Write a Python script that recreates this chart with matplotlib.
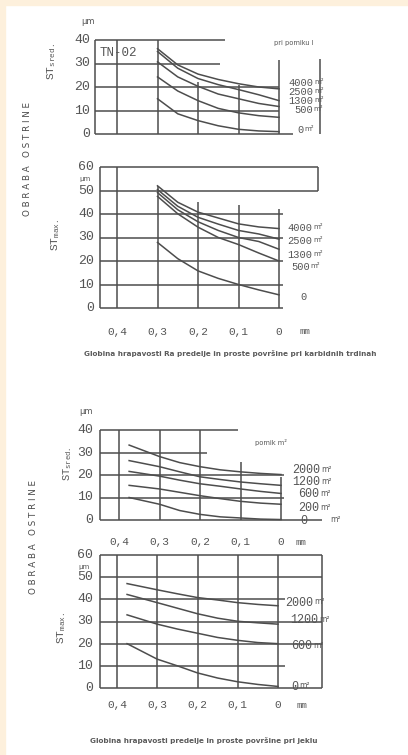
import matplotlib
matplotlib.use('Agg')
import matplotlib.pyplot as plt
from matplotlib.patches import Rectangle
from matplotlib.transforms import blended_transform_factory as blend

# ---------------- data ----------------
ticks_x = [0.4, 0.3, 0.2, 0.1, 0.0]
ticks_x_labels = ['0,4', '0,3', '0,2', '0,1', '0']

# Panel 1: carbide, ST sred. (um) vs depth (mm), per feed length
p1_x = [0.3, 0.25, 0.2, 0.15, 0.1, 0.05, 0.0]
p1_names = ['4000', '2500', '1300', '500', '0']
p1_4000 = [36.3, 29.4, 25.5, 23.2, 21.4, 20.0, 19.2]
p1_2500 = [35.1, 28.0, 23.6, 21.0, 18.9, 16.7, 14.2]
p1_1300 = [30.7, 24.3, 20.3, 17.0, 15.0, 13.0, 11.7]
p1_500 = [24.3, 18.3, 14.2, 10.9, 9.0, 7.8, 7.1]
p1_0 = [15.0, 8.6, 5.7, 3.5, 2.0, 1.3, 1.0]
p1_yticks = [0, 10, 20, 30, 40]

# Panel 2: carbide, ST max.
p2_x = [0.3, 0.25, 0.2, 0.15, 0.1, 0.05, 0.0]
p2_names = ['4000', '2500', '1300', '500', '0']
p2_4000 = [52.0, 45.0, 40.8, 38.3, 35.8, 34.5, 33.8]
p2_2500 = [50.4, 43.3, 38.6, 35.7, 33.0, 31.5, 29.3]
p2_1300 = [49.1, 41.8, 36.7, 33.0, 30.0, 28.3, 25.0]
p2_500 = [47.5, 40.1, 34.4, 30.0, 27.0, 23.4, 20.0]
p2_0 = [27.9, 21.0, 15.8, 12.6, 10.0, 7.7, 5.6]
p2_yticks = [0, 10, 20, 30, 40, 50, 60]

# Panel 3: steel, ST sred.
p3_x = [0.375, 0.3, 0.25, 0.2, 0.15, 0.1, 0.05, 0.0]
p3_names = ['2000', '1200', '600', '200', '0']
p3_2000 = [33.3, 28.2, 25.5, 23.7, 22.3, 21.4, 20.7, 20.2]
p3_1200 = [26.4, 23.7, 21.4, 19.2, 18.0, 16.9, 16.1, 15.4]
p3_600 = [21.6, 19.5, 17.7, 16.1, 15.0, 13.8, 12.7, 11.8]
p3_200 = [15.4, 13.8, 12.3, 10.8, 9.5, 8.3, 7.5, 7.0]
p3_0 = [10.0, 7.0, 4.2, 2.5, 1.4, 0.9, 0.4, 0.2]
p3_yticks = [0, 10, 20, 30, 40]

# Panel 4: steel, ST max.
p4_x = [0.375, 0.3, 0.25, 0.2, 0.15, 0.1, 0.05, 0.0]
p4_names = ['2000', '1200', '600', '0']
p4_2000 = [47.1, 44.3, 42.5, 40.8, 39.7, 38.5, 37.7, 37.1]
p4_1200 = [42.2, 38.5, 36.0, 33.5, 31.5, 30.1, 29.4, 28.8]
p4_600 = [33.0, 28.8, 26.6, 24.7, 22.8, 21.5, 20.5, 20.0]
p4_0 = [20.0, 13.0, 10.0, 6.8, 4.5, 2.8, 1.6, 0.7]
p4_yticks = [0, 10, 20, 30, 40, 50, 60]

# ---------------- figure ----------------
W, H, DPI = 408, 755, 100
fig = plt.figure(figsize=(W / DPI, H / DPI), dpi=DPI)
fig.patch.set_facecolor('white')
CREAM = '#fdf0dc'
fig.patches.append(Rectangle((0, 1 - 5 / H), 1, 5 / H, transform=fig.transFigure,
                             color=CREAM, zorder=0))
fig.patches.append(Rectangle((0, 0), 5 / W, 1, transform=fig.transFigure,
                             color=CREAM, zorder=0))

plt.rcParams['mathtext.fontset'] = 'custom'
plt.rcParams['mathtext.rm'] = 'Liberation Mono'
plt.rcParams['mathtext.it'] = 'Liberation Mono'

INK = '#4d4d4d'
TXT = '#555555'
MONO = 'Liberation Mono'
LW = 1.1


def fx(px):
    return px / W


def fy(py):
    return 1 - py / H


def make_ax(x04, x0, y0, ytop, vtop):
    ax = fig.add_axes([fx(x04), fy(y0), (x0 - x04) / W, (y0 - ytop) / H])
    ax.set_xlim(0.4, 0)
    ax.set_ylim(0, vtop)
    ax.axis('off')
    return ax


def seg(ax, xa, xb, ya, yb):
    ax.plot([xa, xb], [ya, yb], color=INK, lw=LW, clip_on=False, solid_capstyle='butt')


def num_unit(px, py, num, unit, size, usize):
    fig.text(fx(px), fy(py), num, family=MONO, fontsize=size, color=TXT,
             ha='left', va='center')
    w = len(num) * 0.6 * size * DPI / 72
    if unit:
        fig.text(fx(px + w + 1), fy(py - 1), unit, family='DejaVu Sans',
                 fontsize=usize, color=TXT, ha='left', va='center')


def yticks(ax, vals, px_right, size=9.5):
    tr = blend(fig.transFigure, ax.transData)
    for v in vals:
        ax.text(fx(px_right), v, str(v), transform=tr, family=MONO, fontsize=size,
                color=TXT, ha='right', va='center')


def xticks(ax, yval, unit_x, size=8):
    for x, lab in zip(ticks_x, ticks_x_labels):
        ax.text(x, yval, lab, family=MONO, fontsize=size, color=TXT,
                ha='center', va='center', clip_on=False)
    ax.text(unit_x, yval, 'mm', family=MONO, fontsize=size - 1.5, color=TXT,
            ha='center', va='center', clip_on=False)


# ---------- Panel 1 ----------
ax1 = make_ax(117, 279, 134, 40, 40)
seg(ax1, 0.454, 0.454, 0, 40)
seg(ax1, 0.454, 0.133, 40, 40)
seg(ax1, 0.454, 0.146, 30, 30)
seg(ax1, 0.454, 0.0, 20, 20)
seg(ax1, 0.454, 0.0, 10, 10)
seg(ax1, 0.454, -0.035, 0, 0)
seg(ax1, 0.4, 0.4, 0, 40)
seg(ax1, 0.3, 0.3, 0, 40)
seg(ax1, 0.2, 0.2, 0, 22)
seg(ax1, 0.1, 0.1, 0, 21)
seg(ax1, 0.0, 0.0, 0, 31.5)
seg(ax1, -0.101, -0.101, 0, 32)
for ys in [p1_4000, p1_2500, p1_1300, p1_500, p1_0]:
    ax1.plot(p1_x, ys, color=INK, lw=LW, clip_on=False)
yticks(ax1, p1_yticks, 90)
ax1.text(0.444, 34.5, 'TN-02', family=MONO, fontsize=9, color=TXT, ha='left', va='center')
fig.text(fx(294), fy(43), 'pri pomiku l', fontsize=4.8, color=TXT, ha='center', va='center')
fig.text(fx(88), fy(22), 'μm', fontsize=6, color=TXT, ha='center', va='center')
fig.text(fx(52), fy(62), r'$\mathrm{ST}_{\mathrm{sred.}}$', rotation=90, fontsize=8,
         color=TXT, ha='center', va='center')
for (py, px), name in zip([(83, 288), (92, 288), (101, 288), (110, 294), (130, 297)], p1_names):
    num_unit(px, py, name, 'm²', 7.5, 5)

# ---------- Panel 2 ----------
ax2 = make_ax(117, 279, 308, 167, 60)
seg(ax2, 0.442, 0.442, 0, 60)
seg(ax2, 0.442, -0.096, 60, 60)
seg(ax2, -0.096, -0.096, 50, 60)
seg(ax2, 0.442, -0.096, 50, 50)
for v in [40, 30, 20, 10, 0]:
    seg(ax2, 0.442, -0.01, v, v)
seg(ax2, 0.4, 0.4, 0, 60)
seg(ax2, 0.3, 0.3, 0, 52)
seg(ax2, 0.2, 0.2, 0, 45)
seg(ax2, 0.1, 0.1, 0, 44)
seg(ax2, 0.0, 0.0, 0, 42)
for ys in [p2_4000, p2_2500, p2_1300, p2_500, p2_0]:
    ax2.plot(p2_x, ys, color=INK, lw=LW, clip_on=False)
yticks(ax2, p2_yticks, 94)
xticks(ax2, -10.2, -0.064)
fig.text(fx(85), fy(179), 'μm', fontsize=5, color=TXT, ha='center', va='center')
fig.text(fx(56), fy(235), r'$\mathrm{ST}_{\mathrm{max.}}$', rotation=90, fontsize=8,
         color=TXT, ha='center', va='center')
for (py, px), name in zip([(228, 287), (241, 287), (255, 287), (267, 291)], p2_names[:4]):
    num_unit(px, py, name, 'm²', 7.5, 5)
num_unit(300, 297, p2_names[4], '', 7.5, 5)
fig.text(0.565, fy(353),
         'Globina hrapavosti Ra predelje in proste površine pri karbidnih trdinah',
         fontsize=5.2, fontweight='bold', color='#5a5a5a', ha='center', va='center')

# ---------- Panel 3 ----------
ax3 = make_ax(119, 281, 520, 430, 40)
seg(ax3, 0.447, 0.447, 0, 40)
seg(ax3, 0.447, 0.106, 40, 40)
seg(ax3, 0.447, 0.183, 30, 30)
seg(ax3, 0.447, -0.007, 20, 20)
seg(ax3, 0.447, -0.007, 10, 10)
seg(ax3, 0.447, -0.101, 0, 0)
seg(ax3, 0.4, 0.4, 0, 40)
seg(ax3, 0.3, 0.3, 0, 40)
seg(ax3, 0.2, 0.2, 0, 40)
seg(ax3, 0.1, 0.1, 0, 26)
seg(ax3, 0.0, 0.0, 0, 19)
for ys in [p3_2000, p3_1200, p3_600, p3_200, p3_0]:
    ax3.plot(p3_x, ys, color=INK, lw=LW, clip_on=False)
yticks(ax3, p3_yticks, 93)
xticks(ax3, -9.8, -0.05)
fig.text(fx(271), fy(443), 'pomik m²', fontsize=4.8, color=TXT, ha='center', va='center')
fig.text(fx(86), fy(412), 'μm', fontsize=6, color=TXT, ha='center', va='center')
fig.text(fx(68), fy(464), r'$\mathrm{ST}_{\mathrm{sred.}}$', rotation=90, fontsize=7.5,
         color=TXT, ha='center', va='center')
for (py, px), name in zip([(470, 292), (482, 292), (494, 298), (508, 298)], p3_names[:4]):
    num_unit(px, py, name, 'm²', 8.5, 5.5)
num_unit(300, 521, p3_names[4], '', 8.5, 5.5)
fig.text(fx(330), fy(520), 'm²', fontsize=5.5, color=TXT, ha='left', va='center')

# ---------- Panel 4 ----------
ax4 = make_ax(117, 278, 688, 555, 60)
seg(ax4, 0.442, 0.442, 0, 60)
seg(ax4, 0.442, -0.109, 60, 60)
seg(ax4, -0.109, -0.109, 0, 60)
for v in [50, 30, 20, 0]:
    seg(ax4, 0.442, -0.109, v, v)
for v in [40, 10]:
    seg(ax4, 0.442, -0.017, v, v)
for x in ticks_x:
    seg(ax4, x, x, 0, 60)
for ys in [p4_2000, p4_1200, p4_600, p4_0]:
    ax4.plot(p4_x, ys, color=INK, lw=LW, clip_on=False)
yticks(ax4, p4_yticks, 93)
xticks(ax4, -7.7, -0.06)
fig.text(fx(84), fy(567), 'μm', fontsize=5, color=TXT, ha='center', va='center')
fig.text(fx(62), fy(628), r'$\mathrm{ST}_{\mathrm{max.}}$', rotation=90, fontsize=8,
         color=TXT, ha='center', va='center')
for (py, px), name in zip([(603, 285), (620, 290), (646, 291), (687, 291)], p4_names):
    num_unit(px, py, name, 'm²', 8.5, 5.5)
fig.text(fx(204), fy(740), 'Globina hrapavosti predelje in proste površine pri jeklu',
         fontsize=5.2, fontweight='bold', color='#5a5a5a', ha='center', va='center')

# ---------- side labels ----------
fig.text(fx(28), fy(159), 'O B R A B A   O S T R I N E', rotation=90, fontsize=6.3,
         color='#4a4a4a', ha='center', va='center')
fig.text(fx(33), fy(537), 'O B R A B A   O S T R I N E', rotation=90, fontsize=6.3,
         color='#4a4a4a', ha='center', va='center')

fig.savefig('out.png', dpi=DPI, facecolor='white')
